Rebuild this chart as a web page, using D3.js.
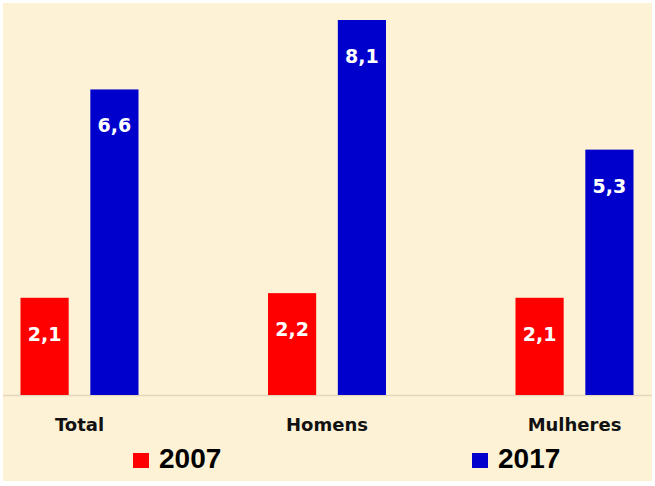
<!DOCTYPE html>
<html lang="pt">
<head>
<meta charset="utf-8">
<title>2007 vs 2017</title>
<script src="https://cdn.jsdelivr.net/npm/d3@7"></script>
<style>
  body { margin: 0; background: #fff; }
  svg { display: block; }
</style>
</head>
<body>
<script>
// data
var categories = ["Total", "Homens", "Mulheres"];
var seriesNames = ["2007", "2017"];
var values2007 = [2.1, 2.2, 2.1];
var values2017 = [6.6, 8.1, 5.3];

var w = 655, h = 486;
var colors = { "2007": "#ff0000", "2017": "#0000cc" };
var fmt = function(v) { return d3.format(".1f")(v).replace(".", ","); };

var svg = d3.select("body").append("svg")
  .attr("width", w)
  .attr("height", h);

// background panel
svg.append("rect")
  .attr("x", 3).attr("y", 3)
  .attr("width", 649).attr("height", 478)
  .attr("fill", "#fdf2d5");

var baseY = 395;
var y = d3.scaleLinear().domain([0, 8.1]).range([baseY, 20]);

// group centres and bars inside each group
var x0 = d3.scalePoint().domain(categories).range([79.5, 574.5]);
var x1 = d3.scaleBand().domain(seriesNames).range([-59, 59]).paddingInner(0.31);

var rows = categories.map(function(c, i) {
  return { cat: c, vals: [
    { key: "2007", value: values2007[i] },
    { key: "2017", value: values2017[i] }
  ]};
});

// baseline
svg.append("line")
  .attr("x1", 3).attr("x2", 652)
  .attr("y1", baseY + 0.5).attr("y2", baseY + 0.5)
  .attr("stroke", "#e6d6c0")
  .attr("stroke-width", 1.5);

var groups = svg.selectAll("g.grp")
  .data(rows)
  .enter().append("g")
  .attr("class", "grp")
  .attr("transform", function(d) { return "translate(" + x0(d.cat) + ",0)"; });

groups.selectAll("rect")
  .data(function(d) { return d.vals; })
  .enter().append("rect")
  .attr("x", function(d) { return x1(d.key); })
  .attr("y", function(d) { return y(d.value); })
  .attr("width", x1.bandwidth())
  .attr("height", function(d) { return baseY - y(d.value); })
  .attr("fill", function(d) { return colors[d.key]; });

groups.selectAll("text.val")
  .data(function(d) { return d.vals; })
  .enter().append("text")
  .attr("class", "val")
  .attr("x", function(d) { return x1(d.key) + x1.bandwidth() / 2; })
  .attr("y", function(d) { return y(d.value) + 43; })
  .attr("text-anchor", "middle")
  .attr("fill", "#fff")
  .style("font-family", "'DejaVu Sans', Verdana, sans-serif")
  .style("font-weight", "bold")
  .style("font-size", "19px")
  .text(function(d) { return fmt(d.value); });

// category labels
svg.selectAll("text.cat")
  .data(categories)
  .enter().append("text")
  .attr("class", "cat")
  .attr("x", function(d) { return x0(d); })
  .attr("y", 431)
  .attr("text-anchor", "middle")
  .attr("fill", "#111")
  .style("font-family", "'DejaVu Sans', Verdana, sans-serif")
  .style("font-weight", "bold")
  .style("font-size", "18px")
  .text(function(d) { return d; });

// legend
var legendX = { "2007": 133, "2017": 472 };
var leg = svg.selectAll("g.leg")
  .data(seriesNames)
  .enter().append("g")
  .attr("class", "leg")
  .attr("transform", function(d) { return "translate(" + legendX[d] + ",453)"; });

leg.append("rect")
  .attr("width", 16).attr("height", 15)
  .attr("fill", function(d) { return colors[d]; });

leg.append("text")
  .attr("x", 26)
  .attr("y", 15)
  .attr("fill", "#000")
  .style("font-family", "'Liberation Sans', Arial, sans-serif")
  .style("font-weight", "bold")
  .style("font-size", "28px")
  .text(function(d) { return d; });
</script>
</body>
</html>
